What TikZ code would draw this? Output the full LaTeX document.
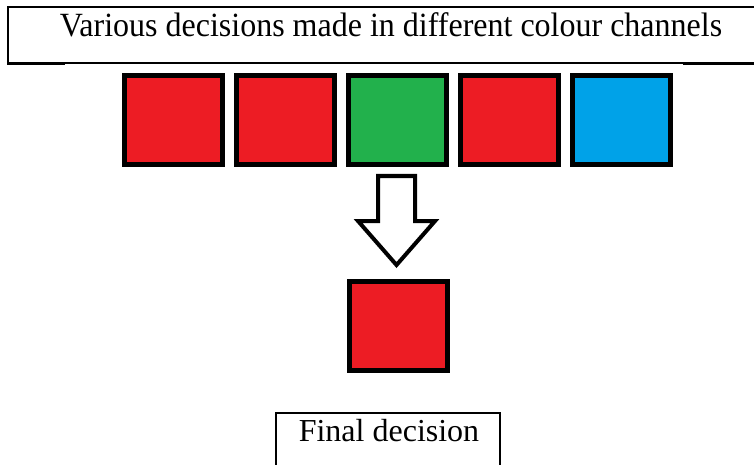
\documentclass[tikz,border=0pt]{standalone}
\usepackage{fontspec}
\setmainfont{Liberation Serif}
\definecolor{chred}{HTML}{ED1C24}
\definecolor{chgreen}{HTML}{22B14C}
\definecolor{chblue}{HTML}{00A2E8}
\begin{document}
\begin{tikzpicture}[x=1pt, y=-1pt, font=\fontsize{32}{38}\selectfont, line join=miter,
		chan/.style={draw=black, line width=5pt, minimum width=98pt, minimum height=89pt, inner sep=0pt}]
	\def\xmin{0}\def\xmax{754}\def\ymin{0}\def\ymax{465}
	\useasboundingbox (\xmin,\ymin) rectangle (\xmax,\ymax);
	\clip (\xmin,\ymin) rectangle (\xmax,\ymax);
	% caption boxes
	\draw[line width=2pt] (8,64) -- (8,7) -- (770,7);
	\draw[line width=3pt] (7,64) -- (65,64) (683,64) -- (770,64);
	\draw[line width=1.2pt] (65,63) -- (683,63);
	\draw[line width=2pt] (276,470) -- (276,413) -- (500,413) -- (500,470);
	\node[anchor=base, inner sep=0pt] (title) at (391,37) {\scalebox{1}[1.06]{Various decisions made in different colour channels}};
	\node[anchor=base, inner sep=0pt] (final) at (389,441) {Final decision};
	% channel decisions
	\foreach \i/\col in {1/chred,2/chred,3/chgreen,4/chred,5/chblue}
		\node[chan, fill=\col] (c\i) at ({173.5+112*(\i-1)},120) {};
	\node[chan, fill=chred] (fin) at (398,326) {};
	% block arrow
	\draw[line width=4pt, fill=white]
	(378,176) -- (415,176) -- (415,221) -- (435,221) -- (396.5,265) -- (358,221) -- (378,221) -- cycle;
\end{tikzpicture}
\end{document}
